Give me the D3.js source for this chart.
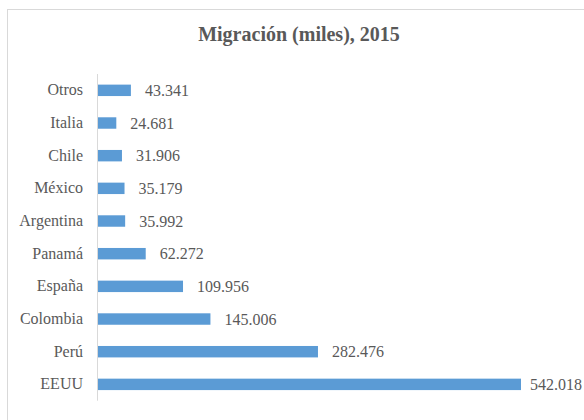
<!DOCTYPE html>
<html>
<head>
<meta charset="utf-8">
<script src="https://cdn.jsdelivr.net/npm/d3@7"></script>
<style>
    body { margin: 0; background: #fff; }
</style>
</head>
<body>
<div id="chart"></div>
<script>
// data, top to bottom
var countries = ["Otros", "Italia", "Chile", "México", "Argentina", "Panamá", "España", "Colombia", "Perú", "EEUU"];
var migrants = [43.341, 24.681, 31.906, 35.179, 35.992, 62.272, 109.956, 145.006, 282.476, 542.018];
var title = "Migración (miles), 2015";

var width = 584, height = 420;
var serif = "'Liberation Serif', 'Times New Roman', serif";

var svg = d3.select("#chart")
    .append("svg")
    .attr("width", width)
    .attr("height", height);

// chart frame
svg.append("rect")
    .attr("x", 7.5)
    .attr("y", 9.5)
    .attr("width", 600)
    .attr("height", 440)
    .attr("fill", "none")
    .attr("stroke", "#d9d9d9");

svg.append("text")
    .attr("x", 299)
    .attr("y", 41)
    .attr("text-anchor", "middle")
    .style("font-family", serif)
    .style("font-size", "20px")
    .style("font-weight", "bold")
    .style("fill", "#595959")
    .text(title);

//plot area bounds
var plotLeft = 97, plotRight = 521, plotTop = 74, plotBottom = 400.7;

var xScale = d3.scaleLinear()
    .domain([0, d3.max(migrants)])
    .range([plotLeft, plotRight]);

var yScale = d3.scaleBand()
    .domain(countries)
    .range([plotTop, plotBottom])
    .paddingInner(0.65)
    .paddingOuter(0.325);

var rows = countries.map(function (c, i) {
    return { country: c, value: migrants[i] };
});

// bars
svg.selectAll(".bar")
    .data(rows)
    .enter().append("rect")
    .attr("class", "bar")
    .attr("x", xScale(0))
    .attr("y", function (d) { return yScale(d.country); })
    .attr("width", function (d) { return xScale(d.value) - xScale(0); })
    .attr("height", yScale.bandwidth())
    .attr("fill", "#5b9bd5");

// category axis
var yAxis = d3.axisLeft(yScale).tickSize(0).tickPadding(14);
var gy = svg.append("g")
    .attr("transform", "translate(" + plotLeft + ",0)")
    .call(yAxis);
gy.attr("font-family", null).attr("font-size", null);
gy.select(".domain").attr("stroke", "#d9d9d9").attr("stroke-width", 1)
    .attr("d", "M0.5," + plotTop + "V" + plotBottom);
gy.selectAll("text")
    .style("font-family", serif)
    .style("font-size", "16px")
    .style("fill", "#595959");

// value labels
var fmt = d3.format(".3f");
svg.selectAll(".val")
    .data(rows)
    .enter().append("text")
    .attr("class", "val")
    .attr("y", function (d) { return yScale(d.country) + yScale.bandwidth() / 2; })
    .attr("dy", "0.35em")
    .style("font-family", serif)
    .style("font-size", "16px")
    .style("fill", "#595959")
    .text(function (d) { return fmt(d.value); })
    .attr("x", function (d) {
        var w = this.getComputedTextLength();
        return Math.min(xScale(d.value) + 14, width - 2 - w);
    });
</script>
</body>
</html>
